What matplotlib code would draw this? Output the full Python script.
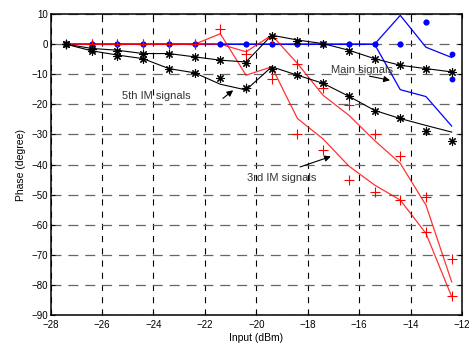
import numpy as np
from matplotlib import pyplot as plt

# input power (dBm)
input_dbm = [-27.4, -26.4, -25.4, -24.4, -23.4, -22.4, -21.4, -20.4,
             -19.4, -18.4, -17.4, -16.4, -15.4, -14.4, -13.4, -12.4]

# main signals: simulated (lines) and measured (dots)
main_sim_up = [0, 0, 0, 0, 0, 0, 0, 0, 0, 0, 0, 0, 0, 9.6, -1.0, -4.4]
main_sim_lo = [0, 0, 0, 0, 0, 0, 0, 0, 0, 0, 0, 0, 0, -15.1, -17.4, -27.2]
main_meas_up = [0, 0, 0, 0, 0, 0, 0, 0, 0, 0, 0, 0, 0, 0, 7.3, -3.4]
main_meas_lo = [0, 0, 0, 0, 0, 0, 0, 0, 0, 0, 0, 0, 0, 0, 7.3, -11.7]

# 3rd order IM: simulated (lines) and measured (+)
im3_sim_up = [0, 0, 0, 0, 0, 0, 0, -2.5, 3.0, -6.4, -17.0, -23.6,
              -32.0, -39.6, -53.5, -79.0]
im3_sim_lo = [0, 0, 0, 0, 0, 0, 3.5, -10.3, -7.5, -24.7, -31.5, -40.5,
              -46.8, -51.8, -62.9, -83.9]
im3_meas_up = [0, 0, 0, 0, 0, 0, 5.0, -3.1, 2.0, -6.6, -14.7, -20.3,
               -29.7, -37.2, -50.9, -71.5]
im3_meas_lo = [0, 0, 0, 0, 0, 0, np.nan, -14.7, -11.7, -29.7, -35.2, -45.0,
               -49.0, -51.8, -62.5, -83.7]

# 5th order IM: simulated (lines) and measured (asterisks)
im5_sim_up = [0, -1.4, -2.0, -3.1, -3.1, -4.2, -5.3, -5.9, 3.0, 1.4, 0.2,
              -2.0, -4.8, -7.0, -8.1, -9.2]
im5_sim_lo = [0, -2.2, -3.6, -4.8, -8.1, -9.5, -13.3, -15.2, -7.5, -10.3,
              -13.0, -17.3, -22.0, -24.7, -27.0, -29.2]
im5_meas_up = [0, -1.6, -2.4, -3.4, -3.4, -4.4, -5.3, -6.2, 2.7, 1.0, 0,
               -2.2, -4.8, -6.8, -8.4, -9.3]
im5_meas_lo = [0, -2.2, -4.0, -5.0, -8.1, -9.4, -11.2, -14.7, -8.4, -10.3,
               -13.0, -17.3, -22.1, -24.4, -29.0, -32.3]

x_ticks = [-28, -26, -24, -22, -20, -18, -16, -14, -12]
y_ticks = [10, 0, -10, -20, -30, -40, -50, -60, -70, -80, -90]


def label_with_arrow(ax, text, text_pos, tail, head):
    ax.text(*text_pos, text, fontsize=8, ha="center", va="center",
            color="#333333")
    ax.annotate("", xy=head, xytext=tail,
                arrowprops=dict(arrowstyle="-|>", color="black", lw=0.8,
                                mutation_scale=9, shrinkA=0, shrinkB=0))


def main():
    plt.rcParams['font.family'] = ['Liberation Sans', 'DejaVu Sans']
    fig = plt.figure(figsize=(4.69, 3.45), dpi=100)
    ax = fig.add_axes([0.108, 0.087, 0.877, 0.872])

    # simulated curves
    ax.plot(input_dbm, main_sim_up, color="blue", lw=0.9)
    ax.plot(input_dbm, main_sim_lo, color="blue", lw=0.9)
    ax.plot(input_dbm, im3_sim_up, color="red", lw=0.9, alpha=0.8)
    ax.plot(input_dbm, im3_sim_lo, color="red", lw=0.9, alpha=0.8)
    ax.plot(input_dbm, im5_sim_up, color="black", lw=0.8)
    ax.plot(input_dbm, im5_sim_lo, color="black", lw=0.8)

    # measured points
    for y in (main_meas_up, main_meas_lo):
        ax.plot(input_dbm, y, ls="none", marker="o", ms=3.2,
                color="blue", mec="blue")
    for y in (im3_meas_up, im3_meas_lo):
        ax.plot(input_dbm, y, ls="none", marker="+", ms=7, mew=0.8,
                color="red")
    for y in (im5_meas_up, im5_meas_lo):
        ax.plot(input_dbm, y, ls="none", marker=(8, 2, 0), ms=6,
                mew=0.8, color="black")

    label_with_arrow(ax, "5th IM signals", (-23.9, -17.3),
                     (-21.3, -18.0), (-20.9, -15.3))
    label_with_arrow(ax, "Main signals", (-15.9, -8.6),
                     (-15.6, -10.6), (-14.8, -12.0))
    label_with_arrow(ax, "3rd IM signals", (-19.0, -44.6),
                     (-18.3, -40.8), (-17.1, -37.3))

    ax.set_xlim(-28, -12)
    ax.set_ylim(-90, 10)
    ax.set_xticks(x_ticks)
    ax.set_yticks(y_ticks)
    ax.tick_params(direction="in", length=3, width=0.8, labelsize=7,
                   top=True, right=True)
    ax.tick_params(axis="x", pad=3.5)
    ax.tick_params(axis="y", pad=2)
    ax.xaxis.grid(True, color="black", ls=(0, (5.5, 5.5)), lw=0.8)
    ax.yaxis.grid(True, color="0.4", ls=(0, (8, 5.5)), lw=0.9)
    ax.set_axisbelow(True)
    for s in ax.spines.values():
        s.set_linewidth(1.1)

    ax.set_xlabel("Input (dBm)", fontsize=7.5, labelpad=2)
    ax.set_ylabel("Phase (degree)", fontsize=7.5, labelpad=4)

    fig.savefig("out.png", dpi=100)


if __name__ == "__main__":
    main()
